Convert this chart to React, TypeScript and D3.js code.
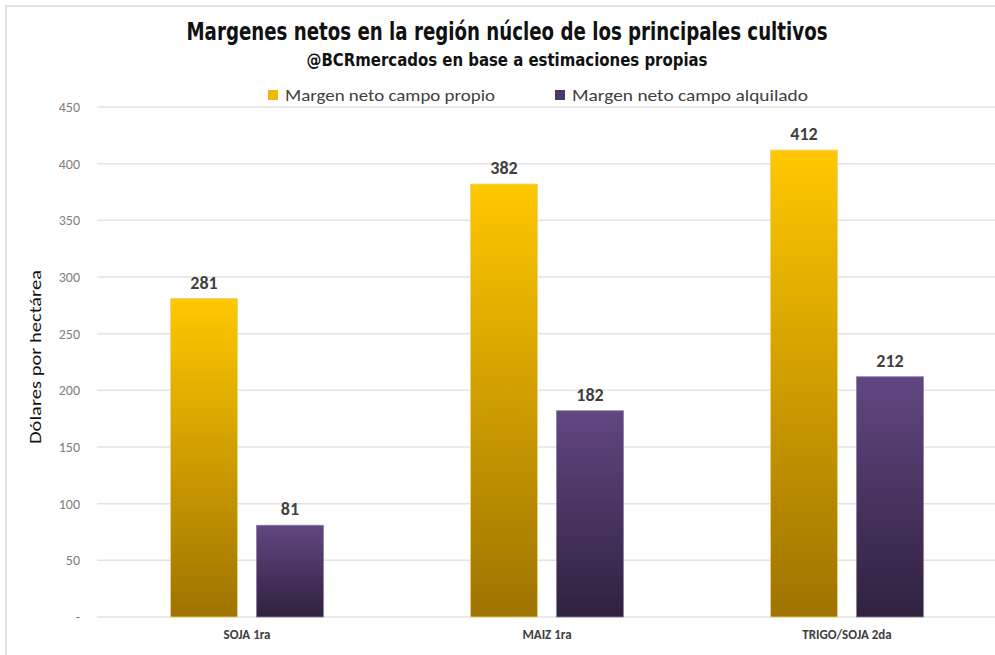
import React from "react";
import * as d3 from "d3";

const categories = ["SOJA 1ra", "MAIZ 1ra", "TRIGO/SOJA 2da"];
const series = ["Margen neto campo propio", "Margen neto campo alquilado"];
const propio = [281, 382, 412];
const alquilado = [81, 182, 212];
const yTicks = [0, 50, 100, 150, 200, 250, 300, 350, 400, 450];

const width = 995;
const height = 655;
const marginLeft = 97;
const plotRight = 997;
const yTop = 107;
const yBottom = 617;

const narrow = "'Liberation Sans Narrow', 'DejaVu Sans Condensed', 'Arial Narrow', sans-serif";
const body = "Carlito, Calibri, 'Liberation Sans', Arial, sans-serif";

export default function App() {
  const x0 = d3.scaleBand<string>().domain(categories).range([marginLeft, plotRight]).paddingInner(0.49).paddingOuter(0.245);
  const x1 = d3.scaleBand<string>().domain(series).range([0, x0.bandwidth()]).paddingInner(0.22);
  const y = d3.scaleLinear().domain([0, 450]).range([yBottom, yTop]);

  const rows = categories.map((c, i) => ({ c, vals: [propio[i], alquilado[i]] }));
  const grads = ["gProp", "gAlq"];
  const legendX = [268, 555];
  const legendLen = [210, 236];

  return (
    <svg width={width} height={height} style={{ position: "absolute", left: 0, top: 0, background: "#fff" }}>
      <defs>
        <linearGradient id="gProp" x1="0" y1="0" x2="0" y2="1">
          <stop offset="0" stopColor="#ffc800" />
          <stop offset="1" stopColor="#9e7300" />
        </linearGradient>
        <linearGradient id="gAlq" x1="0" y1="0" x2="0" y2="1">
          <stop offset="0" stopColor="#614781" />
          <stop offset="1" stopColor="#30213f" />
        </linearGradient>
      </defs>
      <rect x={6} y={6} width={width} height={height} fill="none" stroke="#d9d9d9" strokeWidth={1.5} />

      <text x={507} y={40} textAnchor="middle" fontFamily={narrow} fontWeight="bold" fontSize={24} fill="#111"
        textLength={641} lengthAdjust="spacingAndGlyphs">
        Margenes netos en la región núcleo de los principales cultivos
      </text>
      <text x={507} y={66} textAnchor="middle" fontFamily={narrow} fontWeight="bold" fontSize={17} fill="#111"
        textLength={401} lengthAdjust="spacingAndGlyphs">
        @BCRmercados  en base a estimaciones propias
      </text>

      {series.map((s, i) => (
        <g key={s}>
          <rect x={legendX[i]} y={90} width={10} height={10} fill={i === 0 ? "#f0b800" : "#4d3868"} />
          <text x={legendX[i] + 17} y={101} fontFamily={body} fontSize={17} fill="#404040"
            textLength={legendLen[i]} lengthAdjust="spacingAndGlyphs">{s}</text>
        </g>
      ))}

      {yTicks.map((t) => (
        <g key={t}>
          <line x1={marginLeft} x2={width} y1={y(t)} y2={y(t)} stroke="#e3e3e3" strokeWidth={1.5} />
          <text x={80} y={y(t) + 5} textAnchor="end" fontFamily={body} fontSize={14} fill="#808080">
            {t === 0 ? "-" : t}
          </text>
        </g>
      ))}

      <text transform={`translate(41,357) rotate(-90)`} textAnchor="middle" fontFamily={body} fontSize={17} fill="#111"
        textLength={174} lengthAdjust="spacingAndGlyphs">
        Dólares por hectárea
      </text>

      {rows.map((r) => (
        <g key={r.c} transform={`translate(${x0(r.c)},0)`}>
          {r.vals.map((v, j) => (
            <g key={j}>
              <rect
                x={x1(series[j])}
                y={y(v)}
                width={x1.bandwidth()}
                height={y(0) - y(v)}
                fill={`url(#${grads[j]})`}
                stroke={j === 0 ? "#f3d27a" : "#8e7fa5"}
                strokeWidth={0.8}
              />
              <text
                x={(x1(series[j]) ?? 0) + x1.bandwidth() / 2}
                y={y(v) - 10}
                textAnchor="middle"
                fontFamily={body}
                fontWeight="bold"
                fontSize={18}
                fill="#404040"
              >
                {v}
              </text>
            </g>
          ))}
          <text x={x0.bandwidth() / 2} y={639} textAnchor="middle" fontFamily={body} fontWeight="bold" fontSize={13} fill="#404040">
            {r.c}
          </text>
        </g>
      ))}
    </svg>
  );
}
